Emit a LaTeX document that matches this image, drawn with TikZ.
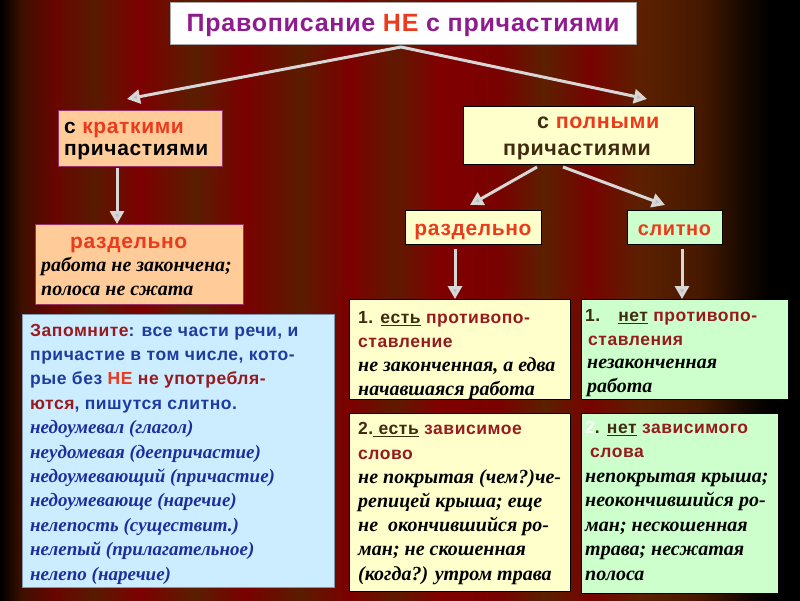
\documentclass[tikz,border=0pt]{standalone}
\usepackage{fontspec}
\setmainfont{Liberation Serif}
\setsansfont{Liberation Sans}
\newfontfamily\sbfam[LetterSpace=3]{Liberation Sans}
\usetikzlibrary{arrows.meta}
\definecolor{c0}{RGB}{0,0,0}
\definecolor{c1}{RGB}{62,16,0}
\definecolor{c2}{RGB}{105,5,0}
\definecolor{c3}{RGB}{88,26,0}
\definecolor{c4}{RGB}{125,0,0}
\definecolor{c5}{RGB}{90,30,0}
\definecolor{c6}{RGB}{122,0,0}
\definecolor{c7}{RGB}{90,28,0}
\definecolor{c8}{RGB}{124,0,0}
\definecolor{c9}{RGB}{95,26,0}
\definecolor{c10}{RGB}{128,0,0}
\definecolor{c11}{RGB}{120,2,0}
\definecolor{c12}{RGB}{92,32,0}
\definecolor{c13}{RGB}{118,3,0}
\definecolor{c14}{RGB}{92,32,0}
\definecolor{c15}{RGB}{70,25,0}
\definecolor{c16}{RGB}{22,8,0}
\definecolor{c17}{RGB}{0,0,0}
\definecolor{tpurple}{RGB}{142,28,142}
\definecolor{hred}{RGB}{236,58,28}
\definecolor{peach}{RGB}{255,204,153}
\definecolor{peachborder}{RGB}{153,51,102}
\definecolor{lyellow}{RGB}{255,255,204}
\definecolor{lgreen}{RGB}{204,255,204}
\definecolor{lblue}{RGB}{204,236,255}
\definecolor{blueborder}{RGB}{130,150,175}
\definecolor{dred}{RGB}{150,26,30}
\definecolor{tbrown}{RGB}{64,42,16}
\definecolor{tblue}{RGB}{30,60,160}
\definecolor{iblue}{RGB}{28,46,156}
\definecolor{agrey}{RGB}{215,215,215}
\tikzset{
  box/.style={draw, line width=0.9pt, anchor=north west, inner sep=0pt, outer sep=0pt},
  txt/.style={anchor=base west, inner sep=0pt, align=left},
  sbs/.style 2 args={font=\sbfam\bfseries\fontsize{#1}{#2}\selectfont},
  arr/.style={draw=agrey, line width=3pt, -{Triangle[length=13pt,width=14pt,fill=agrey!70!gray]}},
}
\newcommand{\italA}{\rmfamily\bfseries\itshape\fontsize{20}{24}\selectfont}
\newcommand{\italB}{\rmfamily\bfseries\itshape\fontsize{19}{24}\selectfont}
\begin{document}
\begin{tikzpicture}[x=1pt,y=-1pt]
\useasboundingbox (0,0) rectangle (800,600);
% curtain background
\foreach \xa/\ca/\xb/\cb in {0/c0/22/c1, 22/c1/55/c2, 55/c2/95/c3, 95/c3/140/c4, 140/c4/195/c5, 195/c5/245/c6, 245/c6/300/c7, 300/c7/350/c8, 350/c8/395/c9, 395/c9/440/c10, 440/c10/500/c11, 500/c11/545/c12, 545/c12/590/c13, 590/c13/640/c14, 640/c14/700/c15, 700/c15/745/c16, 745/c16/770/c17, 770/c17/800/c17}
  \shade[left color=\ca, right color=\cb] (\xa,0) rectangle (\xb,600);

% title
\node[box, draw=gray!70, fill=white, minimum width=466, minimum height=42] (title) at (170,2) {};
\node[txt, anchor=base, sbs={25}{28}, text=tpurple] (titleT) at (403,31) {Правописание {\color{hred}НЕ} с причастиями};

% level 2 boxes
\node[box, draw=peachborder, fill=peach, minimum width=164, minimum height=56] (kratk) at (58,110) {};
\node[txt, sbs={21}{21.5}] (kratkT) at (64,155) {с {\color{hred}краткими}\\причастиями};
\node[box, draw=black, fill=lyellow, minimum width=231, minimum height=58] (poln) at (463,106) {};
\node[txt, sbs={21.5}{26.7}, text=tbrown] (polnT) at (503,155) {\hspace*{34pt}с {\color{hred}полными}\\причастиями};

% apex arrows
\coordinate (apex) at (401,47);
\coordinate (tipL) at (127,99);
\coordinate (tipR) at (647,99);
\draw[arr] (apex) -- (tipL);
\draw[arr] (apex) -- (tipR);

% left separate box
\node[box, draw=peachborder, fill=peach, minimum width=208, minimum height=80] (razdL) at (35,224) {};
\coordinate (kb) at (117,168);
\draw[arr] (kb) -- (razdL.north -| kb);
\node[txt, sbs={21}{24}, text=hred] (razdLT) at (70,248) {раздельно};
\node[txt, font=\italA] (razdLI) at (41,295) {работа не закончена;\\полоса не сжата};

% right level 3
\node[box, draw=black, fill=lyellow, minimum width=136, minimum height=34] (razdR) at (405,210) {};
\node[txt, anchor=base, sbs={21}{24}, text=hred] (razdRT) at (473,235) {раздельно};
\node[box, draw=black, fill=lgreen, minimum width=95, minimum height=34] (slit) at (627,210) {};
\node[txt, anchor=base, sbs={20}{24}, text=hred] (slitT) at (674.5,235) {слитно};
\coordinate (pb1) at (537,167);
\coordinate (pb2) at (563,167);
\coordinate (rt) at (470,205);
\coordinate (st) at (665,205);
\draw[arr] (pb1) -- (rt);
\draw[arr] (pb2) -- (st);

% boxes level 4
\node[box, draw=black, fill=lyellow, minimum width=221, minimum height=100] (est1) at (349,299) {};
\node[box, draw=black, fill=lgreen, minimum width=207, minimum height=100] (net1) at (581,299) {};
\node[box, draw=black, fill=lyellow, minimum width=221, minimum height=178] (est2) at (349,413) {};
\node[box, draw=black, fill=lgreen, minimum width=197, minimum height=180] (net2) at (581,413) {};
\coordinate (ra) at (455,249);
\coordinate (sa) at (682,249);
\draw[arr] (ra) -- (est1.north -| ra);
\draw[arr] (sa) -- (net1.north -| sa);

\node[txt, sbs={17.5}{23.9}, text=tbrown] (est1T) at (358,395) {1. \underline{есть} {\color{dred}противопо-}\\{\color{dred}ставление}\\{\italA\color{black}не законченная, а едва}\\{\italA\color{black}начавшаяся работа}};
\node[txt, sbs={17.5}{23.4}, text=tbrown] (net1T) at (585,392) {1.\hspace*{18pt}\underline{нет} {\color{dred}противопо-}\\\hspace*{3pt}{\color{dred}ставления}\\\hspace*{2pt}{\italA\color{black}незаконченная}\\\hspace*{2pt}{\italA\color{black}работа}};
\node[txt, sbs={17.5}{24.2}, text=tbrown] (est2T) at (358,580) {2.\underline{\ есть} {\color{dred}зависимое}\\{\color{dred}слово}\\{\italA\color{black}не покрытая (чем?)че-}\\{\italA\color{black}репицей крыша; еще}\\{\italA\color{black}не\ \ окончившийся ро-}\\{\italA\color{black}ман; не скошенная}\\{\italA\color{black}(когда?) утром трава}};
\node[txt, sbs={17.5}{24.45}, text=tbrown] (net2T) at (585,580) {{\color{white}2}. \underline{нет} {\color{dred}зависимого}\\\hspace*{5pt}{\color{dred}слова}\\{\italA\color{black}непокрытая крыша;}\\{\italA\color{black}неокончившийся ро-}\\{\italA\color{black}ман; нескошенная}\\{\italA\color{black}трава; несжатая}\\{\italA\color{black}полоса}};

% blue note
\node[box, draw=blueborder, fill=lblue, minimum width=312, minimum height=273] (note) at (22,314) {};
\node[txt, sbs={17.5}{24.4}, text=tblue] (noteT) at (30,580) {{\color{dred}Запомните}: все части речи, и\\причастие в том числе, кото-\\рые без {\color{hred}НЕ} {\color{dred}не употребля-}\\{\color{dred}ются}, пишутся слитно.\\{\italB\color{iblue}недоумевал (глагол)}\\{\italB\color{iblue}неудомевая (деепричастие)}\\{\italB\color{iblue}недоумевающий (причастие)}\\{\italB\color{iblue}недоумевающе (наречие)}\\{\italB\color{iblue}нелепость (существит.)}\\{\italB\color{iblue}нелепый (прилагательное)}\\{\italB\color{iblue}нелепо (наречие)}};
\end{tikzpicture}
\end{document}
